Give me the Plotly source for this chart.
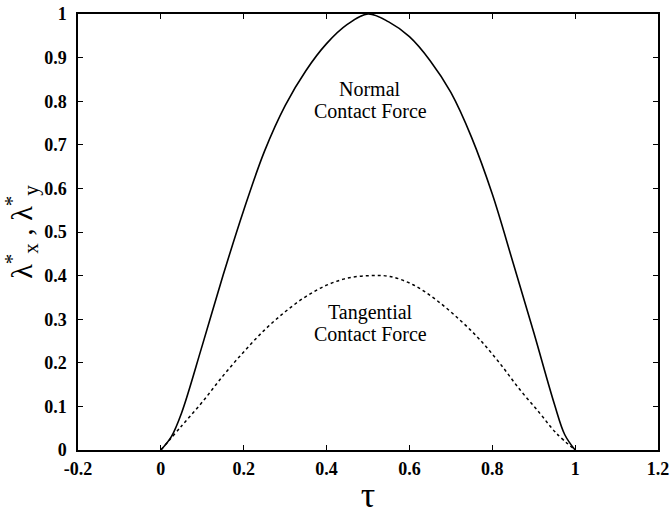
import plotly.graph_objects as go

# Normal contact force (solid)
tau_normal = [0.0, 0.025, 0.05, 0.10, 0.15, 0.20, 0.25, 0.30, 0.35, 0.40, 0.45, 0.50,
              0.55, 0.60, 0.65, 0.70, 0.75, 0.80, 0.85, 0.90, 0.95, 0.975, 1.0]
val_normal = [0.0, 0.03, 0.085, 0.24, 0.40, 0.55, 0.685, 0.79, 0.87, 0.932, 0.976, 1.0,
              0.982, 0.948, 0.893, 0.82, 0.717, 0.587, 0.43, 0.27, 0.105, 0.035, 0.0]

# Tangential contact force (dashed)
tau_tang = [0.0, 0.05, 0.10, 0.15, 0.20, 0.25, 0.30, 0.35, 0.40, 0.45, 0.505,
            0.553, 0.609, 0.665, 0.722, 0.770, 0.818, 0.867, 0.915, 0.955, 1.0]
val_tang = [0.0, 0.055, 0.11, 0.17, 0.225, 0.275, 0.317, 0.352, 0.378, 0.394, 0.40,
            0.398, 0.379, 0.344, 0.298, 0.253, 0.199, 0.138, 0.084, 0.038, 0.0]

x_ticks = [-0.2, 0, 0.2, 0.4, 0.6, 0.8, 1, 1.2]
x_tick_text = ["-0.2", "0", "0.2", "0.4", "0.6", "0.8", "1", "1.2"]
y_ticks = [0, 0.1, 0.2, 0.3, 0.4, 0.5, 0.6, 0.7, 0.8, 0.9, 1]
y_tick_text = ["0", "0.1", "0.2", "0.3", "0.4", "0.5", "0.6", "0.7", "0.8", "0.9", "1"]

labels = [
    ("Normal", 0.505, 0.827),
    ("Contact Force", 0.505, 0.778),
    ("Tangential", 0.505, 0.315),
    ("Contact Force", 0.505, 0.266),
]

FONT = "Liberation Serif, Times New Roman, DejaVu Serif, serif"

fig = go.Figure()
fig.add_trace(go.Scatter(x=tau_normal, y=val_normal, mode="lines",
                         line=dict(color="black", width=1.6, shape="spline", smoothing=1.0),
                         showlegend=False))
fig.add_trace(go.Scatter(x=tau_tang, y=val_tang, mode="lines",
                         line=dict(color="black", width=1.5, dash="3px,3px",
                                   shape="spline", smoothing=1.0),
                         showlegend=False))

for txt, lx, ly in labels:
    fig.add_annotation(x=lx, y=ly, xref="x", yref="y", text=txt, showarrow=False,
                       font=dict(family=FONT, size=20, color="black"), align="center")

axis_common = dict(showline=True, linecolor="black", linewidth=1.5, mirror="ticks",
                   ticks="inside", ticklen=5, tickwidth=1.2, tickcolor="black",
                   showgrid=False, zeroline=False, automargin=False,
                   tickfont=dict(family=FONT, size=18, color="black", weight="bold"))

fig.update_xaxes(range=[-0.2, 1.2], tickvals=x_ticks, ticktext=x_tick_text,
                 ticklabelstandoff=2,
                 title=dict(text="τ", font=dict(family=FONT, size=36, color="black"),
                            standoff=9),
                 **axis_common)
fig.update_yaxes(range=[0, 1], tickvals=y_ticks, ticktext=y_tick_text,
                 ticklabelstandoff=6,
                 title=dict(text="λ<sup>*</sup><sub>x</sub> , λ<sup>*</sup><sub>y</sub>",
                            font=dict(family=FONT, size=30, color="black"), standoff=8),
                 **axis_common)

fig.update_layout(width=671, height=515, margin=dict(l=78, r=13, t=14, b=65),
                  plot_bgcolor="white", paper_bgcolor="white",
                  font=dict(family=FONT, color="black"))

fig.write_html("out.html")
